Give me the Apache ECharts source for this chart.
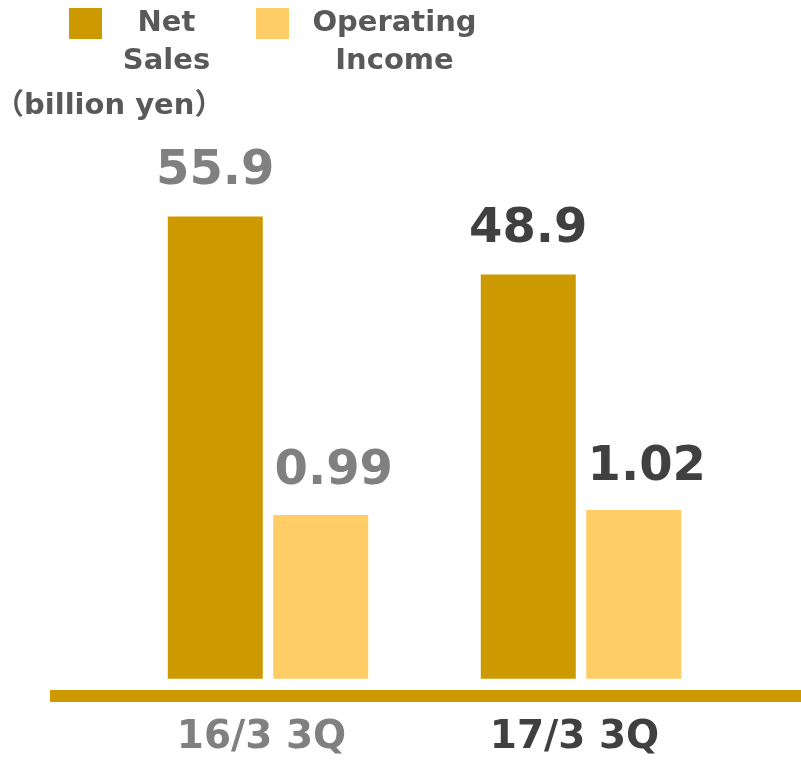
<!DOCTYPE html>
<html>
<head>
<meta charset="utf-8">
<script src="https://cdn.jsdelivr.net/npm/echarts@6/dist/echarts.min.js"></script>
<style>
  html, body { margin: 0; padding: 0; background: #fff; }
  #chart { width: 801px; height: 764px; }
</style>
</head>
<body>
<div id="chart"></div>
<script>
// Quarterly results: net sales (left scale) and operating income (right scale), billion yen
const categories = ['16/3 3Q', '17/3 3Q'];
const netSales = [55.9, 48.9];
const operatingIncome = [0.99, 1.02];
const seriesNames = ['Net Sales', 'Operating Income'];
const unitLabel = '（billion yen）';

// styling
const periodColors = ['#808080', '#404040'];
const netColor = '#CC9900';
const opColor = '#FFCC66';
const textGray = '#595959';
const FONT = '"DejaVu Sans", "Noto Sans CJK JP", sans-serif';

const chart = echarts.init(document.getElementById('chart'), null, { renderer: 'canvas' });

const valueLabel = {
  show: true,
  position: 'top',
  distance: 21,
  fontSize: 48,
  fontWeight: 'bold',
  fontFamily: FONT
};

chart.setOption({
  animation: false,
  backgroundColor: '#ffffff',
  title: {
    text: unitLabel,
    left: -5,
    top: 92,
    padding: 0,
    textStyle: { fontSize: 29, fontWeight: 'bold', color: textGray, fontFamily: FONT }
  },
  legend: {
    data: seriesNames,
    left: 69,
    top: -29,
    padding: 0,
    itemWidth: 33,
    itemHeight: 31,
    itemGap: 30,
    icon: 'rect',
    formatter: function (name) {
      if (name === 'Net Sales') return '{n| }\n{n|Net}\n{n|Sales}';
      return '{o| }\n{o|Operating}\n{o|Income}';
    },
    textStyle: {
      fontFamily: FONT,
      fontWeight: 'bold',
      fontSize: 29,
      color: textGray,
      rich: {
        n: { width: 119, align: 'center', lineHeight: 38, fontSize: 29, fontWeight: 'bold', color: textGray, fontFamily: FONT },
        o: { width: 201, align: 'center', lineHeight: 38, fontSize: 29, fontWeight: 'bold', color: textGray, fontFamily: FONT }
      }
    }
  },
  grid: { left: 111.5, right: 63.5, top: 182.7, bottom: 85.3, containLabel: false },
  xAxis: {
    type: 'category',
    data: categories.map((c, i) => ({ value: c, textStyle: { color: periodColors[i] } })),
    axisLine: { show: false },
    axisTick: { show: false },
    axisLabel: {
      margin: 40,
      padding: [0, 13, 0, 0],
      fontSize: 39,
      fontWeight: 'bold',
      fontFamily: FONT
    }
  },
  yAxis: [
    { type: 'value', min: 0, max: 60, show: false, splitLine: { show: false } },
    { type: 'value', min: 0, max: 3, show: false, splitLine: { show: false } }
  ],
  series: [
    {
      name: seriesNames[0],
      type: 'bar',
      yAxisIndex: 0,
      barWidth: 95,
      barGap: '11%',
      itemStyle: { color: netColor },
      label: valueLabel,
      data: netSales.map((v, i) => ({ value: v, label: { color: periodColors[i] } }))
    },
    {
      name: seriesNames[1],
      type: 'bar',
      yAxisIndex: 1,
      barWidth: 95,
      barGap: '11%',
      itemStyle: { color: opColor },
      label: Object.assign({}, valueLabel, { offset: [13, 0], distance: 19 }),
      data: operatingIncome.map((v, i) => ({ value: v, label: { color: periodColors[i] } }))
    }
  ],
  // thick baseline running under both periods
  graphic: [
    {
      type: 'rect',
      left: 50,
      top: 690,
      shape: { width: 751, height: 12 },
      style: { fill: netColor },
      silent: true
    }
  ]
});
</script>
</body>
</html>
